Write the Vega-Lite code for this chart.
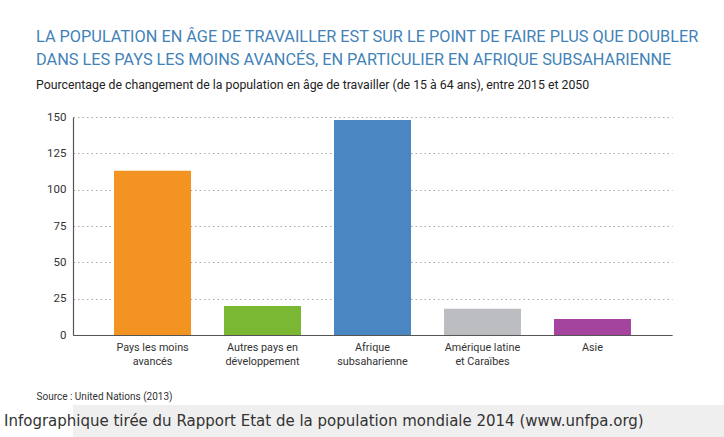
{
  "$schema": "https://vega.github.io/schema/vega-lite/v6.json",
  "background": "white",
  "padding": {"left": 0, "top": 29, "right": 0, "bottom": 0},
  "spacing": 4,
  "vconcat": [
    {
      "title": {
        "text": ["LA POPULATION EN ÂGE DE TRAVAILLER EST SUR LE POINT DE FAIRE PLUS QUE DOUBLER", "DANS LES PAYS LES MOINS AVANCÉS, EN PARTICULIER EN AFRIQUE SUBSAHARIENNE"],
        "subtitle": "Pourcentage de changement de la population en âge de travailler (de 15 à 64 ans), entre 2015 et 2050",
        "anchor": "start",
        "frame": "bounds",
        "dx": 36,
        "font": "Roboto, sans-serif",
        "fontSize": 16.3,
        "fontWeight": "normal",
        "color": "#4282B8",
        "lineHeight": 23,
        "subtitleFont": "Roboto, sans-serif",
        "subtitleFontSize": 12.3,
        "subtitleColor": "#222222",
        "subtitlePadding": 10,
        "offset": 20
      },
      "width": 599,
      "height": 218,
      "data": {
        "values": [
          {"region": "Pays les moins\navancés", "value": 113},
          {"region": "Autres pays en\ndéveloppement", "value": 20},
          {"region": "Afrique\nsubsaharienne", "value": 148},
          {"region": "Amérique latine\net Caraïbes", "value": 18},
          {"region": "Asie", "value": 11}
        ]
      },
      "mark": {"type": "bar"},
      "encoding": {
        "x": {
          "field": "region",
          "type": "nominal",
          "sort": null,
          "scale": {"paddingInner": 0.3, "paddingOuter": 0.373},
          "axis": {
            "labelExpr": "split(datum.label, '\\n')",
            "labelAngle": 0,
            "labelFont": "Roboto, sans-serif",
            "labelFontSize": 10.8,
            "labelColor": "#333333",
            "labelLineHeight": 14,
            "labelPadding": 6,
            "ticks": false,
            "domainColor": "#555555",
            "domainWidth": 1.2,
            "title": "Source : United Nations (2013)",
            "titleFont": "Roboto, sans-serif",
            "titleFontSize": 10,
            "titleFontWeight": "normal",
            "titleColor": "#333333",
            "titleAnchor": "start",
            "titleAlign": "left",
            "titleBaseline": "alphabetic",
            "titleX": -37,
            "titleY": 64
          }
        },
        "y": {
          "field": "value",
          "type": "quantitative",
          "scale": {"domain": [0, 150]},
          "axis": {
            "values": [0, 25, 50, 75, 100, 125, 150],
            "title": null,
            "grid": true,
            "gridDash": [1.5, 3],
            "gridColor": "#a8a8a8",
            "ticks": false,
            "domainColor": "#555555",
            "domainWidth": 1.2,
            "labelFont": "Roboto, sans-serif",
            "labelFontSize": 11.5,
            "labelColor": "#333333",
            "labelPadding": 7,
            "minExtent": 73,
            "maxExtent": 73
          }
        },
        "color": {
          "field": "region",
          "type": "nominal",
          "sort": null,
          "scale": {"range": ["#F39321", "#7AB833", "#4A86C1", "#BCBDC0", "#A5449E"]},
          "legend": null
        }
      }
    },
    {
      "width": 724,
      "height": 32,
      "view": {"fill": "#EFEFEF", "stroke": null},
      "data": {"values": [{"caption": "Infographique tirée du Rapport Etat de la population mondiale 2014 (www.unfpa.org)"}]},
      "mark": {"type": "text", "align": "left", "baseline": "middle", "dx": -69, "font": "DejaVu Sans", "fontSize": 15, "color": "#333333"},
      "encoding": {
        "x": {"field": "caption", "type": "nominal", "scale": {"type": "point", "padding": 0, "align": 0}, "axis": null},
        "text": {"field": "caption", "type": "nominal"}
      }
    }
  ],
  "config": {"view": {"stroke": null}}
}
